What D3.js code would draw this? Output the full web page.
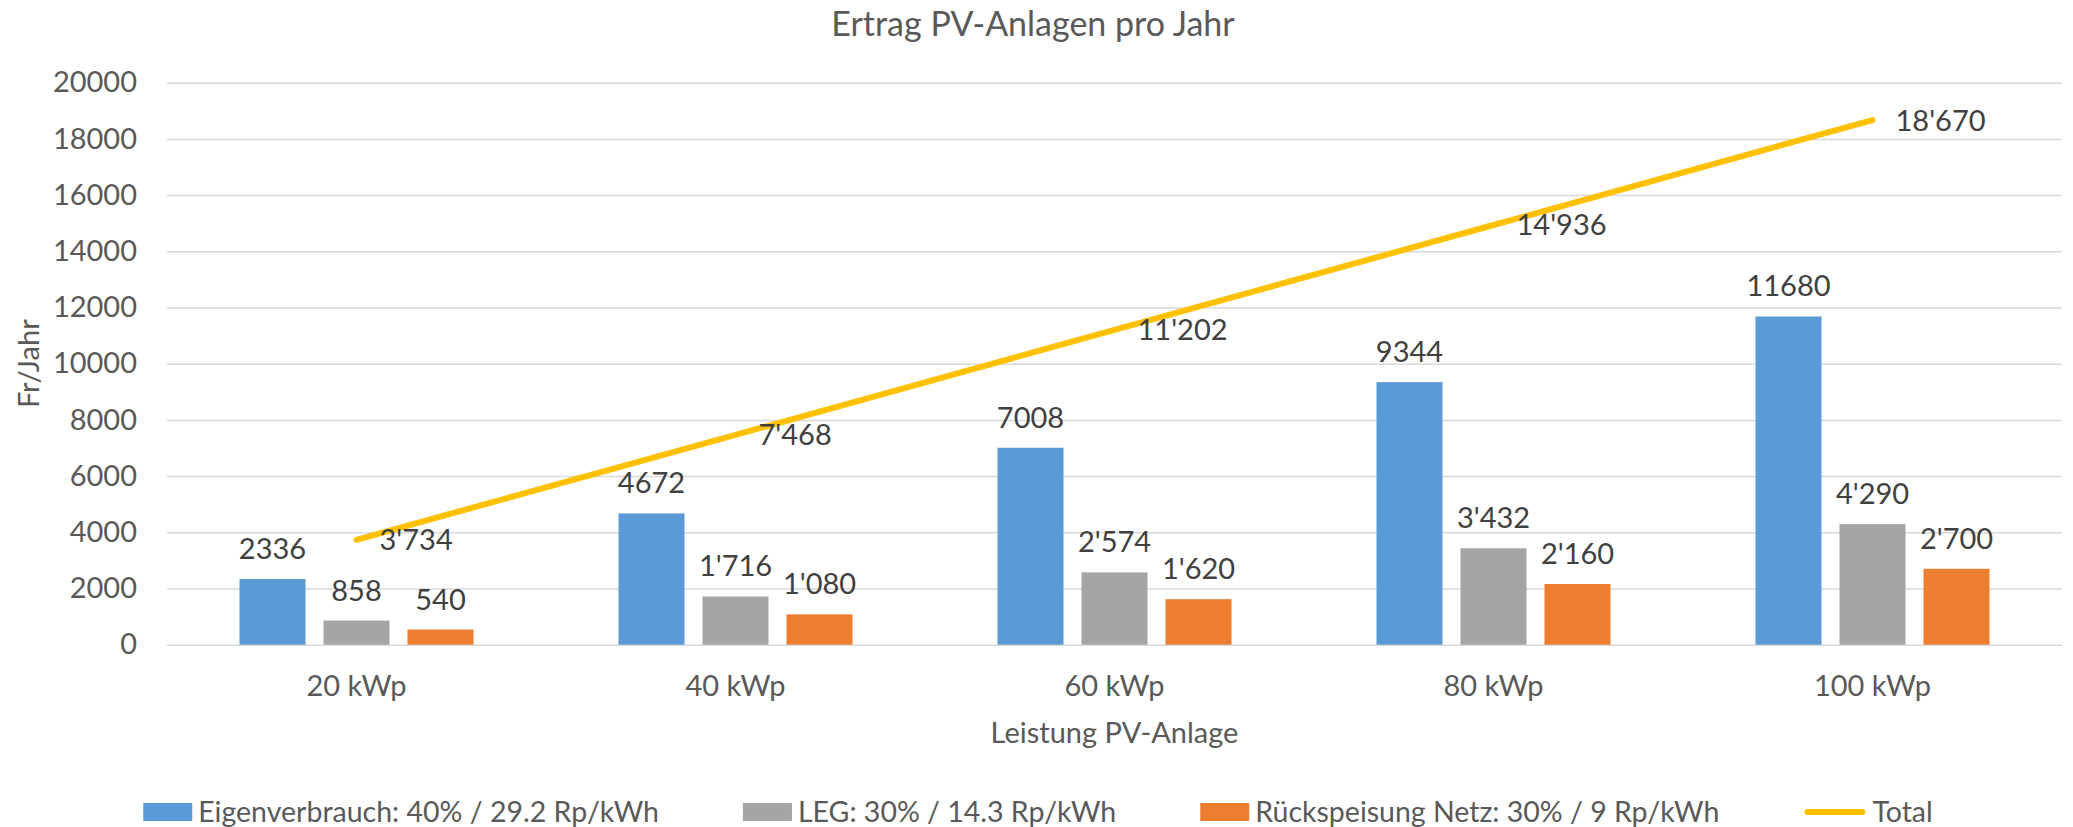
<!DOCTYPE html>
<html lang="de">
<head>
    <meta charset="UTF-8">
    <title>Ertrag PV-Anlagen pro Jahr</title>
    <script src="https://d3js.org/d3.v7.min.js"></script>
    <style>
        body { margin: 0; background: #fff; }
        svg { display: block; font-family: Lato, "Open Sans", sans-serif; }
    </style>
</head>
<body>
    <svg id="chart" width="2073" height="827"></svg>

    <script>
        // Chart data
        const categories = ["20 kWp", "40 kWp", "60 kWp", "80 kWp", "100 kWp"];
        const seriesNames = [
            "Eigenverbrauch: 40% / 29.2 Rp/kWh",
            "LEG: 30% / 14.3 Rp/kWh",
            "Rückspeisung Netz: 30% / 9 Rp/kWh"
        ];
        const eigenverbrauch = [2336, 4672, 7008, 9344, 11680];
        const leg = [858, 1716, 2574, 3432, 4290];
        const rueckspeisung = [540, 1080, 1620, 2160, 2700];
        const total = [3734, 7468, 11202, 14936, 18670];
        const totalName = "Total";
        const yTicks = [0, 2000, 4000, 6000, 8000, 10000, 12000, 14000, 16000, 18000, 20000];

        const colors = ["#5B9BD5", "#A5A5A5", "#ED7D31"];
        const lineColor = "#FFC000";

        const swiss = d3.formatLocale({ decimal: ".", thousands: "'", grouping: [3], currency: ["", ""] });
        const fmtPlain = d3.format("d");
        const fmtSwiss = swiss.format(",d");
        const labelFormats = [fmtPlain, fmtSwiss, fmtSwiss];

        const svg = d3.select("#chart");
        const W = 2073, H = 827;
        const plot = { left: 167, right: 2062, top: 82.7, bottom: 644.7 };

        svg.append("rect").attr("width", W).attr("height", H).attr("fill", "#fff");

        const x = d3.scaleBand()
            .domain(categories)
            .range([plot.left, plot.right]);

        const xInner = d3.scaleBand()
            .domain(d3.range(seriesNames.length))
            .range([0, x.bandwidth()])
            .paddingInner(0.214)
            .paddingOuter(0.863);

        const y = d3.scaleLinear()
            .domain([0, 20000])
            .range([plot.bottom, plot.top]);

        // Gridlines
        svg.append("g")
            .attr("transform", `translate(${plot.left},0)`)
            .call(d3.axisLeft(y).tickValues(yTicks).tickSize(-(plot.right - plot.left)).tickFormat(""))
            .call(g => g.select(".domain").remove())
            .call(g => g.selectAll("line").attr("stroke", "#D9D9D9").attr("stroke-width", 1.5));

        // Y axis labels
        svg.append("g")
            .attr("transform", `translate(${plot.left},0)`)
            .call(d3.axisLeft(y).tickValues(yTicks).tickSize(0).tickPadding(30).tickFormat(fmtPlain))
            .call(g => g.select(".domain").remove())
            .call(g => g.selectAll("text")
                .attr("fill", "#595959")
                .style("font-size", "29px")
                .style("font-family", "Lato, sans-serif"));

        // X axis labels
        svg.append("g")
            .attr("transform", `translate(0,${plot.bottom})`)
            .call(d3.axisBottom(x).tickSize(0).tickPadding(31))
            .call(g => g.select(".domain").remove())
            .call(g => g.selectAll("text")
                .attr("fill", "#595959")
                .style("font-size", "29px")
                .style("font-family", "Lato, sans-serif"));

        // Bars
        const seriesData = [eigenverbrauch, leg, rueckspeisung];
        seriesData.forEach((values, si) => {
            const g = svg.append("g");
            g.selectAll("rect")
                .data(values)
                .enter().append("rect")
                .attr("x", (d, i) => x(categories[i]) + xInner(si))
                .attr("width", xInner.bandwidth())
                .attr("y", d => y(d))
                .attr("height", d => y(0) - y(d))
                .attr("fill", colors[si]);

            g.selectAll("text")
                .data(values)
                .enter().append("text")
                .attr("x", (d, i) => x(categories[i]) + xInner(si) + xInner.bandwidth() / 2)
                .attr("y", d => y(d) - 20)
                .attr("text-anchor", "middle")
                .attr("fill", "#404040")
                .style("font-size", "29px")
                .text(d => labelFormats[si](d));
        });

        // Total line
        const cx = c => x(c) + x.bandwidth() / 2;
        const line = d3.line()
            .x((d, i) => cx(categories[i]))
            .y(d => y(d));

        svg.append("path")
            .datum(total)
            .attr("d", line)
            .attr("fill", "none")
            .attr("stroke", lineColor)
            .attr("stroke-width", 6)
            .attr("stroke-linecap", "round")
            .attr("stroke-linejoin", "round");

        svg.append("g").selectAll("text")
            .data(total)
            .enter().append("text")
            .attr("x", (d, i) => cx(categories[i]) + 23)
            .attr("y", d => y(d))
            .attr("dy", "0.36em")
            .attr("fill", "#404040")
            .style("font-size", "29px")
            .text(d => fmtSwiss(d));

        // Title
        svg.append("text")
            .attr("x", 1033)
            .attr("y", 36)
            .attr("text-anchor", "middle")
            .attr("fill", "#595959")
            .style("font-size", "34px")
            .text("Ertrag PV-Anlagen pro Jahr");

        // Axis titles
        svg.append("text")
            .attr("transform", `translate(39,${(plot.top + plot.bottom) / 2}) rotate(-90)`)
            .attr("text-anchor", "middle")
            .attr("fill", "#595959")
            .style("font-size", "29px")
            .text("Fr/Jahr");

        svg.append("text")
            .attr("x", cx(categories[2]))
            .attr("y", 743)
            .attr("text-anchor", "middle")
            .attr("fill", "#595959")
            .style("font-size", "29px")
            .text("Leistung PV-Anlage");

        // Legend
        const legendItems = seriesNames.map((n, i) => ({ name: n, color: colors[i], type: "rect" }))
            .concat([{ name: totalName, color: lineColor, type: "line" }]);

        const legend = svg.append("g");
        let lx = 0;
        const itemGap = 84;
        legendItems.forEach(item => {
            const g = legend.append("g").attr("transform", `translate(${lx},0)`);
            let sw;
            if (item.type === "rect") {
                sw = 49;
                g.append("rect").attr("x", 0).attr("y", -9).attr("width", sw).attr("height", 18).attr("fill", item.color);
            } else {
                sw = 63;
                g.append("line").attr("x1", 4).attr("x2", sw - 4).attr("y1", 0).attr("y2", 0)
                    .attr("stroke", item.color).attr("stroke-width", 6).attr("stroke-linecap", "round");
            }
            const t = g.append("text")
                .attr("x", sw + 6)
                .attr("y", 0)
                .attr("dy", "0.36em")
                .attr("fill", "#595959")
                .style("font-size", "28.5px")
                .text(item.name);
            lx += sw + 6 + t.node().getComputedTextLength() + itemGap;
        });
        const legendWidth = lx - itemGap;
        legend.attr("transform", `translate(${1038 - legendWidth / 2},812)`);
    </script>
</body>
</html>
